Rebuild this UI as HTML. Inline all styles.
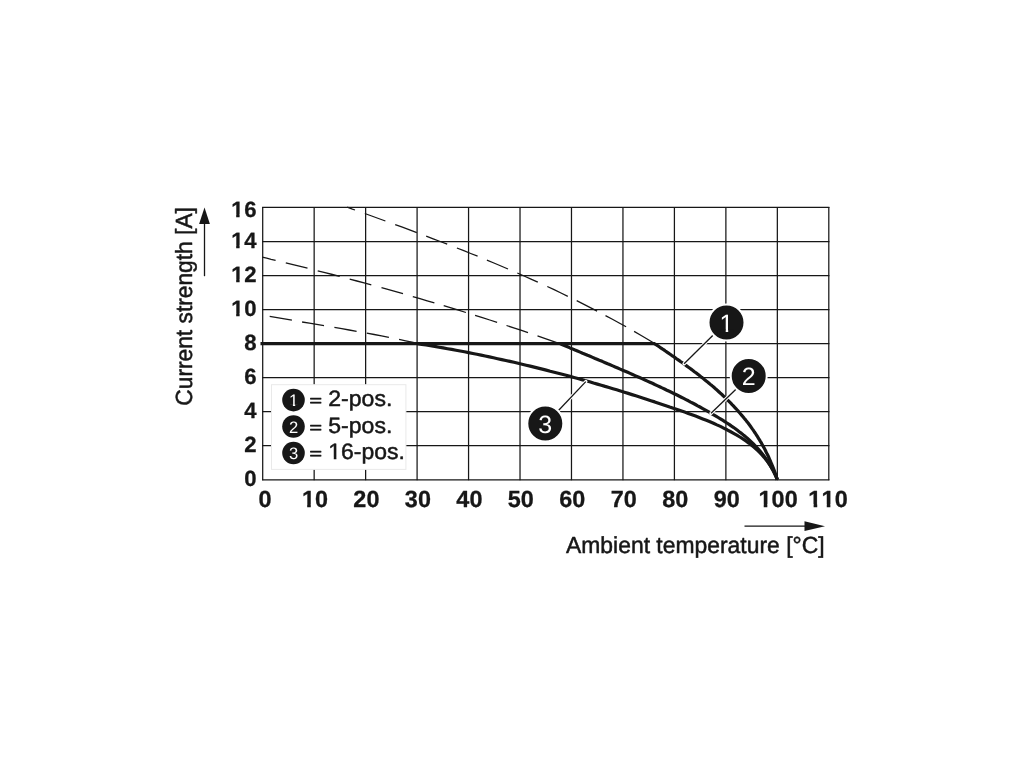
<!DOCTYPE html>
<html lang="en"><head><meta charset="utf-8"><title>Derating diagram</title>
<style>html,body{margin:0;padding:0;background:#fff}body{width:1020px;height:765px;overflow:hidden}svg{display:block}text{font-family:"Liberation Sans",Arial,Helvetica,sans-serif;fill:#171717;text-rendering:geometricPrecision}.b{font-weight:bold;font-kerning:none;stroke:#171717;stroke-width:0.3px;stroke-linejoin:round}.by{font-size:22.1px;letter-spacing:0.8px}.bx{font-size:23.4px;letter-spacing:0.13px}.r{stroke:#171717;stroke-width:0.5px;stroke-linejoin:round}.w{fill:#fff}</style>
</head><body>
<svg width="1020" height="765" viewBox="0 0 1020 765">
<rect width="1020" height="765" fill="#ffffff"/>
<g stroke="#171717" stroke-width="1.25" fill="none">
<line x1="262.70" y1="206.89" x2="262.70" y2="480.35"/>
<line x1="314.16" y1="206.89" x2="314.16" y2="480.35"/>
<line x1="365.63" y1="206.89" x2="365.63" y2="480.35"/>
<line x1="417.09" y1="206.89" x2="417.09" y2="480.35"/>
<line x1="468.56" y1="206.89" x2="468.56" y2="480.35"/>
<line x1="520.02" y1="206.89" x2="520.02" y2="480.35"/>
<line x1="571.48" y1="206.89" x2="571.48" y2="480.35"/>
<line x1="622.95" y1="206.89" x2="622.95" y2="480.35"/>
<line x1="674.41" y1="206.89" x2="674.41" y2="480.35"/>
<line x1="725.88" y1="206.89" x2="725.88" y2="480.35"/>
<line x1="777.34" y1="206.89" x2="777.34" y2="480.35"/>
<line x1="828.80" y1="206.89" x2="828.80" y2="480.35"/>
<line x1="262.10" y1="479.75" x2="829.40" y2="479.75"/>
<line x1="262.10" y1="445.72" x2="829.40" y2="445.72"/>
<line x1="262.10" y1="411.69" x2="829.40" y2="411.69"/>
<line x1="262.10" y1="377.65" x2="829.40" y2="377.65"/>
<line x1="262.10" y1="343.62" x2="829.40" y2="343.62"/>
<line x1="262.10" y1="309.59" x2="829.40" y2="309.59"/>
<line x1="262.10" y1="275.56" x2="829.40" y2="275.56"/>
<line x1="262.10" y1="241.53" x2="829.40" y2="241.53"/>
<line x1="262.10" y1="207.49" x2="829.40" y2="207.49"/>
</g>
<g stroke="#171717" stroke-width="1.3" fill="none">
<path d="M347.2,207.2 L349.8,208.1 L352.4,209.1 L355.0,210.0 M364.8,213.5 L371.7,216.0 L378.5,218.5 L385.4,221.0 M395.2,224.6 L402.4,227.2 L409.6,229.9 L416.8,232.6 M426.2,236.1 L433.2,238.8 L440.2,241.5 L447.2,244.2 M456.9,248.0 L463.8,250.7 L470.7,253.5 L477.6,256.2 M486.9,260.1 L493.9,263.0 L501.0,266.0 L508.0,269.0 M517.3,273.0 L524.1,276.0 L531.0,279.1 L537.8,282.2 M547.3,286.5 L554.1,289.7 L561.0,293.0 L567.8,296.3 M576.7,300.7 L583.5,304.1 L590.3,307.6 L597.1,311.1 M605.5,315.6 L612.4,319.2 L619.2,323.0 L626.1,326.8 M634.1,331.4 L641.2,335.5 L648.4,339.7 L655.5,344.0"/>
<path d="M262.2,257.1 L266.7,258.2 L271.1,259.3 L275.6,260.3 M285.8,262.8 L293.0,264.6 L300.3,266.4 L307.5,268.2 M317.7,270.8 L325.0,272.6 L332.4,274.5 L339.7,276.4 M349.7,279.1 L356.9,281.0 L364.1,282.9 L371.3,284.9 M381.5,287.7 L388.7,289.7 L395.8,291.7 L403.0,293.7 M412.8,296.6 L420.0,298.6 L427.2,300.8 L434.4,302.9 M443.7,305.7 L451.1,307.9 L458.5,310.2 L465.9,312.5 M475.1,315.4 L482.4,317.7 L489.8,320.0 L497.1,322.4 M506.5,325.5 L513.7,327.8 L520.8,330.2 L528.0,332.6 M537.5,335.9 L545.3,338.6 L553.2,341.3 L561.0,344.1"/>
<path d="M269.7,316.3 L277.1,317.6 L284.5,318.9 L291.9,320.2 M302.1,322.0 L309.4,323.2 L316.7,324.4 L324.0,325.7 M334.4,327.4 L341.8,328.7 L349.2,330.0 L356.6,331.3 M366.8,333.1 L374.2,334.5 L381.5,335.9 L388.9,337.3 M399.1,339.4 L405.6,340.8 L412.0,342.2 L418.5,343.6"/>
</g>
<g stroke="#171717" stroke-width="3.2" fill="none" stroke-linejoin="round" stroke-linecap="butt">
<line x1="260.5" y1="343.6" x2="655" y2="343.6"/>
<path d="M654.5,343.6 L656.1,344.7 L657.6,345.7 L659.2,346.8 L660.7,347.8 L662.3,348.9 L663.9,349.9 L665.4,351.0 L667.0,352.1 L668.5,353.1 L670.1,354.2 L671.6,355.3 L673.2,356.3 L674.7,357.4 L676.2,358.5 L677.8,359.6 L679.3,360.6 L680.8,361.7 L682.4,362.8 L683.9,363.9 L685.4,365.0 L686.9,366.1 L688.4,367.2 L689.9,368.3 L691.4,369.4 L692.9,370.5 L694.4,371.7 L695.9,372.8 L697.4,373.9 L698.9,375.1 L700.3,376.2 L701.8,377.4 L703.3,378.5 L704.7,379.7 L706.2,380.9 L707.6,382.0 L709.0,383.2 L710.4,384.4 L711.9,385.6 L713.3,386.8 L714.7,388.0 L716.1,389.3 L717.5,390.5 L718.8,391.7 L720.2,393.0 L721.6,394.2 L722.9,395.5 L724.3,396.8 L725.6,398.0 L726.9,399.3 L728.2,400.6 L729.5,401.9 L730.8,403.2 L732.1,404.6 L733.4,405.9 L734.7,407.3 L735.9,408.6 L737.2,410.0 L738.4,411.4 L739.6,412.8 L740.8,414.2 L742.0,415.6 L743.2,417.0 L744.4,418.5 L745.6,419.9 L746.7,421.4 L747.9,422.8 L749.0,424.3 L750.1,425.8 L751.2,427.3 L752.3,428.9 L753.4,430.4 L754.4,432.0 L755.5,433.5 L756.5,435.1 L757.5,436.7 L758.5,438.3 L759.5,439.9 L760.5,441.6 L761.5,443.2 L762.4,444.9 L763.3,446.6 L764.3,448.3 L765.2,450.0 L766.0,451.7 L766.9,453.5 L767.8,455.2 L768.6,457.0 L769.4,458.8 L770.2,460.6 L771.0,462.5 L771.8,464.3 L772.5,466.2 L773.3,468.0 L774.0,469.9 L774.7,471.9 L775.4,473.8 L776.0,475.7 L776.7,477.7 L777.3,479.7"/>
<path d="M560.0,343.6 L562.5,344.7 L565.0,345.7 L567.5,346.8 L570.0,347.9 L572.5,348.9 L575.0,350.0 L577.5,351.0 L580.1,352.1 L582.6,353.2 L585.1,354.2 L587.6,355.3 L590.1,356.3 L592.6,357.4 L595.1,358.5 L597.6,359.5 L600.1,360.6 L602.7,361.6 L605.2,362.7 L607.7,363.8 L610.2,364.8 L612.7,365.9 L615.2,367.0 L617.7,368.0 L620.2,369.1 L622.7,370.2 L625.2,371.2 L627.7,372.3 L630.1,373.4 L632.6,374.5 L635.1,375.6 L637.6,376.7 L640.1,377.8 L642.5,378.9 L645.0,380.0 L647.4,381.1 L649.9,382.2 L652.4,383.3 L654.8,384.5 L657.2,385.6 L659.7,386.7 L662.1,387.9 L664.5,389.0 L666.9,390.2 L669.3,391.3 L671.8,392.5 L674.2,393.7 L676.5,394.8 L678.9,396.0 L681.3,397.2 L683.7,398.4 L686.0,399.6 L688.4,400.8 L690.7,402.1 L693.1,403.3 L695.4,404.5 L697.7,405.8 L700.0,407.0 L702.3,408.3 L704.6,409.6 L706.9,410.9 L709.2,412.2 L711.4,413.5 L713.7,414.8 L715.9,416.1 L718.2,417.5 L720.4,418.8 L722.6,420.2 L724.8,421.6 L726.9,423.0 L729.1,424.4 L731.2,425.9 L733.3,427.3 L735.4,428.8 L737.4,430.3 L739.5,431.9 L741.5,433.4 L743.4,435.0 L745.4,436.6 L747.3,438.3 L749.2,440.0 L751.0,441.7 L752.9,443.5 L754.6,445.2 L756.4,447.1 L758.1,448.9 L759.8,450.8 L761.4,452.8 L763.0,454.8 L764.5,456.8 L766.0,458.9 L767.5,461.0 L768.9,463.1 L770.2,465.3 L771.5,467.6 L772.8,469.9 L774.0,472.3 L775.2,474.7 L776.3,477.2 L777.3,479.7"/>
<path d="M417.5,343.6 L421.8,344.3 L426.1,345.0 L430.4,345.7 L434.7,346.4 L439.0,347.2 L443.2,347.9 L447.5,348.7 L451.7,349.4 L456.0,350.2 L460.2,351.0 L464.4,351.8 L468.6,352.6 L472.8,353.5 L476.9,354.3 L481.1,355.1 L485.2,356.0 L489.4,356.9 L493.5,357.8 L497.6,358.7 L501.7,359.6 L505.8,360.5 L509.9,361.4 L514.0,362.3 L518.1,363.3 L522.1,364.2 L526.2,365.2 L530.2,366.1 L534.2,367.1 L538.2,368.1 L542.3,369.1 L546.2,370.1 L550.2,371.2 L554.2,372.2 L558.2,373.2 L562.2,374.3 L566.1,375.3 L570.0,376.4 L574.0,377.5 L577.9,378.5 L581.8,379.6 L585.7,380.7 L589.6,381.8 L593.5,383.0 L597.4,384.1 L601.3,385.2 L605.1,386.4 L609.0,387.5 L612.9,388.7 L616.7,389.8 L620.5,391.0 L624.4,392.2 L628.2,393.4 L632.0,394.6 L635.8,395.8 L639.6,397.0 L643.4,398.2 L647.2,399.5 L650.9,400.7 L654.7,401.9 L658.5,403.2 L662.2,404.4 L666.0,405.7 L669.7,407.0 L673.4,408.2 L677.2,409.5 L680.9,410.8 L684.6,412.1 L688.3,413.4 L692.0,414.8 L695.6,416.1 L699.2,417.5 L702.8,418.9 L706.4,420.3 L710.0,421.8 L713.5,423.3 L716.9,424.9 L720.4,426.4 L723.7,428.1 L727.1,429.8 L730.3,431.5 L733.6,433.3 L736.8,435.1 L739.9,437.0 L742.9,438.9 L745.9,441.0 L748.8,443.1 L751.6,445.3 L754.4,447.5 L757.0,449.9 L759.6,452.4 L762.0,454.9 L764.4,457.6 L766.6,460.4 L768.7,463.3 L770.7,466.3 L772.6,469.4 L774.3,472.7 L775.9,476.1 L777.3,479.7"/>
</g>
<line x1="713.5" y1="334.8" x2="684.1" y2="363.7" stroke="#ffffff" stroke-width="3.4" stroke-linecap="round"/>
<line x1="713.5" y1="334.8" x2="684.1" y2="363.7" stroke="#171717" stroke-width="1.3"/>
<line x1="736.5" y1="388.8" x2="711.0" y2="413.3" stroke="#ffffff" stroke-width="3.4" stroke-linecap="round"/>
<line x1="736.5" y1="388.8" x2="711.0" y2="413.3" stroke="#171717" stroke-width="1.3"/>
<line x1="558.0" y1="411.0" x2="585.8" y2="381.6" stroke="#ffffff" stroke-width="3.4" stroke-linecap="round"/>
<line x1="558.0" y1="411.0" x2="585.8" y2="381.6" stroke="#171717" stroke-width="1.3"/>
<circle cx="726.5" cy="322.5" r="18.0" fill="#171717" stroke="#ffffff" stroke-width="2.0"/>
<text class="w" x="726.5" y="332" font-size="25.0" text-anchor="middle">1</text>
<path d="M720.2,329.6h5.5v3.4h-5.5z M728.2,329.6h5.2v3.4h-5.2z" fill="#171717"/>
<circle cx="748.7" cy="375.9" r="18.0" fill="#171717" stroke="#ffffff" stroke-width="2.0"/>
<text class="w" x="748.7" y="385" font-size="25.0" text-anchor="middle">2</text>
<circle cx="545.3" cy="423.5" r="18.0" fill="#171717" stroke="#ffffff" stroke-width="2.0"/>
<text class="w" x="545.3" y="433" font-size="25.0" text-anchor="middle">3</text>
<rect x="271.5" y="384.7" width="134.4" height="84.7" fill="#ffffff" stroke="#e9e9e9" stroke-width="1"/>
<circle cx="293.5" cy="400.1" r="11.3" fill="#171717"/>
<text class="w" x="293.5" y="406" font-size="16.6" text-anchor="middle">1</text>
<path d="M289.0,404.3h3.9v2.6h-3.9z M295.2,404.3h3.6v2.6h-3.6z" fill="#171717"/>
<text class="r" transform="translate(309.6,400.55) scale(1,0.76)" x="0" y="7.3" font-size="21.4" style="stroke-width:0.9px">=</text>
<text class="r" x="328.3" y="406" font-size="22.2" textLength="64.0" lengthAdjust="spacingAndGlyphs">2-pos.</text>
<circle cx="293.5" cy="426.5" r="11.3" fill="#171717"/>
<text class="w" x="293.5" y="433" font-size="16.6" text-anchor="middle">2</text>
<text class="r" transform="translate(309.6,426.95) scale(1,0.76)" x="0" y="7.3" font-size="21.4" style="stroke-width:0.9px">=</text>
<text class="r" x="328.3" y="433" font-size="22.2" textLength="64.0" lengthAdjust="spacingAndGlyphs">5-pos.</text>
<circle cx="293.5" cy="453.0" r="11.3" fill="#171717"/>
<text class="w" x="293.5" y="459" font-size="16.6" text-anchor="middle">3</text>
<text class="r" transform="translate(309.6,453.45) scale(1,0.76)" x="0" y="7.3" font-size="21.4" style="stroke-width:0.9px">=</text>
<text class="r" x="328.3" y="459" font-size="22.2" textLength="76.6" lengthAdjust="spacingAndGlyphs">16-pos.</text>
<path d="M329.00,457.00H333.77V460.00H329.00z M336.40,457.00H341.00V460.00H336.40z" fill="#ffffff"/>
<text class="b by" transform="translate(257.40,217) scale(1,1.0)" x="0" y="0" text-anchor="end">16</text>
<path d="M232.00,214.00H236.18V218.00H232.00z M239.61,214.00H244.00V218.00H239.61z" fill="#ffffff"/>
<text class="b by" transform="translate(257.40,248) scale(1,1.0)" x="0" y="0" text-anchor="end">14</text>
<path d="M232.00,245.00H236.18V249.00H232.00z M239.61,245.00H244.00V249.00H239.61z" fill="#ffffff"/>
<text class="b by" transform="translate(257.40,282) scale(1,1.0)" x="0" y="0" text-anchor="end">12</text>
<path d="M232.00,279.00H236.18V283.00H232.00z M239.61,279.00H244.00V283.00H239.61z" fill="#ffffff"/>
<text class="b by" transform="translate(257.40,316) scale(1,1.0)" x="0" y="0" text-anchor="end">10</text>
<path d="M232.00,313.00H236.18V317.00H232.00z M239.61,313.00H244.00V317.00H239.61z" fill="#ffffff"/>
<text class="b by" transform="translate(257.40,350) scale(1,1.0)" x="0" y="0" text-anchor="end">8</text>
<text class="b by" transform="translate(257.40,384) scale(1,1.0)" x="0" y="0" text-anchor="end">6</text>
<text class="b by" transform="translate(257.40,418) scale(1,1.0)" x="0" y="0" text-anchor="end">4</text>
<text class="b by" transform="translate(257.40,452) scale(1,1.0)" x="0" y="0" text-anchor="end">2</text>
<text class="b by" transform="translate(257.40,486) scale(1,1.0)" x="0" y="0" text-anchor="end">0</text>
<text class="b bx" transform="translate(265.06,507) scale(1,1.0)" x="0" y="0" text-anchor="middle">0</text>
<text class="b bx" transform="translate(315.06,507) scale(1,1.0)" x="0" y="0" text-anchor="middle">10</text>
<path d="M303.00,504.00H307.18V508.00H303.00z M310.79,504.00H315.00V508.00H310.79z" fill="#ffffff"/>
<text class="b bx" transform="translate(366.46,507) scale(1,1.0)" x="0" y="0" text-anchor="middle">20</text>
<text class="b bx" transform="translate(417.96,507) scale(1,1.0)" x="0" y="0" text-anchor="middle">30</text>
<text class="b bx" transform="translate(469.46,507) scale(1,1.0)" x="0" y="0" text-anchor="middle">40</text>
<text class="b bx" transform="translate(520.87,507) scale(1,1.0)" x="0" y="0" text-anchor="middle">50</text>
<text class="b bx" transform="translate(572.37,507) scale(1,1.0)" x="0" y="0" text-anchor="middle">60</text>
<text class="b bx" transform="translate(623.77,507) scale(1,1.0)" x="0" y="0" text-anchor="middle">70</text>
<text class="b bx" transform="translate(675.27,507) scale(1,1.0)" x="0" y="0" text-anchor="middle">80</text>
<text class="b bx" transform="translate(726.77,507) scale(1,1.0)" x="0" y="0" text-anchor="middle">90</text>
<text class="b bx" transform="translate(778.17,507) scale(1,1.0)" x="0" y="0" text-anchor="middle">100</text>
<path d="M759.00,504.00H763.72V508.00H759.00z M767.33,504.00H771.00V508.00H767.33z" fill="#ffffff"/>
<text class="b bx" transform="translate(828.07,507) scale(1,1.0)" x="0" y="0" text-anchor="middle">110</text>
<path d="M809.00,504.00H813.62V508.00H809.00z M817.23,504.00H821.00V508.00H817.23z" fill="#ffffff"/>
<path d="M822.00,504.00H826.76V508.00H822.00z M830.37,504.00H835.00V508.00H830.37z" fill="#ffffff"/>
<text class="r" transform="translate(192,405.7) rotate(-90)" font-size="23.4" textLength="198.6" lengthAdjust="spacingAndGlyphs">Current strength [A]</text>
<text class="r" x="566" y="553" font-size="23.2" textLength="258.6" lengthAdjust="spacingAndGlyphs">Ambient temperature [°C]</text>
<g stroke="#171717" stroke-width="1.3" fill="#171717">
<line x1="204.5" y1="276.2" x2="204.5" y2="222"/>
<path d="M204.5,207.6 L209.9,224.1 L199.1,224.1 Z" stroke="none"/>
<line x1="744.5" y1="526.2" x2="806" y2="526.2"/>
<path d="M825.0,526.2 L804.5,531.1 L804.5,521.3 Z" stroke="none"/>
</g>
</svg>
</body></html>
